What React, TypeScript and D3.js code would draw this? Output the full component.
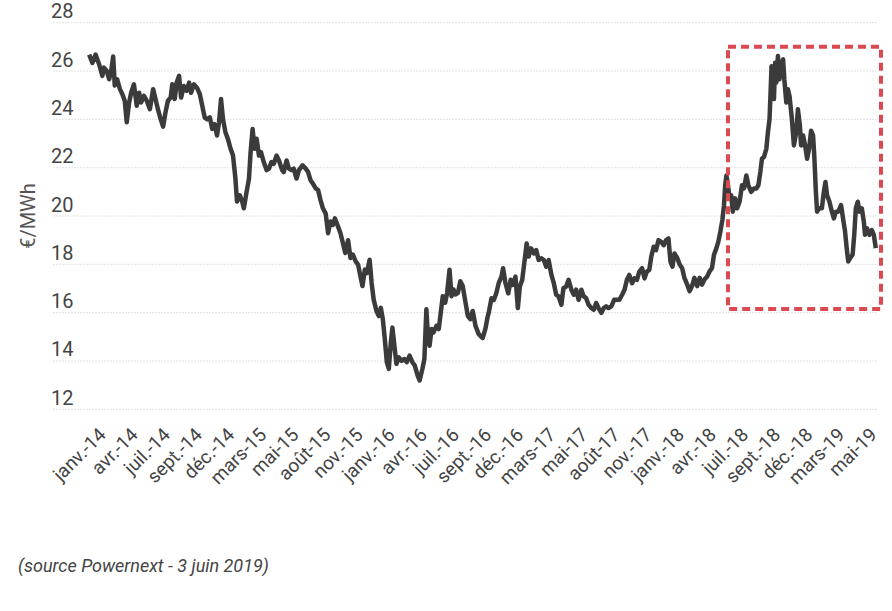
import React, { useEffect, useRef } from 'react';
import * as d3 from 'd3';

const startDate = new Date(2014, 0, 2);
const endDate = new Date(2019, 4, 31);

// [days since 2 Jan 2014, price €/MWh]
const prices: [number, number][] = [
  [3, 26.68], [11, 26.34], [19, 26.68], [28, 26.27], [36, 25.8], [40, 26.14], [47, 26.0], [53, 25.66],
  [58, 26.0], [63, 26.6], [67, 25.4], [73, 25.66], [80, 25.25], [86, 25.04], [92, 24.77], [97, 23.88],
  [103, 24.7], [108, 25.1], [115, 25.45], [122, 24.56], [128, 25.1], [133, 24.7], [140, 24.97], [147, 24.77],
  [155, 24.42], [163, 25.25], [169, 24.84], [175, 24.42], [182, 24.0], [188, 23.7], [194, 24.29], [200, 24.77],
  [207, 24.9], [211, 25.45], [217, 24.84], [222, 25.52], [228, 25.8], [233, 24.9], [240, 25.38], [247, 25.18],
  [253, 25.52], [258, 25.1], [265, 25.45], [273, 25.3], [280, 25.04], [286, 24.56], [292, 24.08], [298, 24.0],
  [305, 24.08], [311, 23.6], [317, 23.8], [323, 23.33], [328, 23.88], [333, 24.84], [338, 24.0], [344, 23.47],
  [350, 23.2], [357, 22.78], [363, 22.5], [369, 21.55], [373, 20.6], [380, 20.86], [386, 20.6], [390, 20.32],
  [397, 21.0], [403, 21.55], [407, 22.64], [412, 23.6], [417, 22.78], [422, 23.2], [428, 22.5], [433, 22.64],
  [440, 22.23], [447, 21.9], [453, 21.96], [459, 22.23], [465, 22.16], [472, 22.5], [478, 22.3], [486, 21.9],
  [490, 21.82], [497, 22.3], [503, 21.96], [509, 21.9], [515, 21.96], [522, 21.55], [528, 21.9], [537, 22.1],
  [545, 21.96], [551, 21.82], [557, 21.48], [563, 21.34], [570, 21.14], [576, 21.07], [582, 20.66], [588, 20.32],
  [595, 20.1], [601, 19.29], [607, 19.77], [613, 19.63], [618, 19.9], [626, 19.56], [632, 19.29], [638, 18.88],
  [644, 18.47], [651, 19.0], [657, 18.26], [663, 18.4], [670, 18.12], [676, 17.99], [682, 17.5], [687, 17.1],
  [693, 17.78], [698, 17.64], [705, 18.19], [710, 17.23], [715, 16.55], [722, 16.07], [728, 15.86], [733, 16.2],
  [738, 15.73], [743, 14.9], [748, 13.95], [753, 13.67], [758, 14.77], [762, 15.38], [767, 14.63], [772, 13.88],
  [778, 14.15], [785, 14.01], [792, 14.08], [798, 13.95], [805, 14.22], [812, 13.95], [818, 13.81], [825, 13.4],
  [830, 13.19], [837, 13.67], [842, 14.08], [847, 16.14], [851, 15.04], [855, 14.63], [860, 15.32], [865, 15.18],
  [872, 15.45], [878, 15.32], [883, 16.0], [888, 16.68], [894, 16.41], [899, 16.82], [905, 17.78], [910, 16.68],
  [915, 16.96], [920, 16.75], [926, 16.82], [932, 17.3], [938, 17.1], [945, 16.41], [951, 15.86], [957, 15.73],
  [963, 16.07], [970, 15.45], [978, 15.11], [988, 14.95], [995, 15.35], [1000, 15.8], [1003, 15.99], [1010, 16.6],
  [1016, 16.53], [1022, 16.8], [1028, 17.22], [1035, 17.49], [1039, 17.84], [1045, 17.22], [1052, 16.8], [1058, 17.36],
  [1063, 17.15], [1070, 17.49], [1076, 16.19], [1081, 17.08], [1087, 17.36], [1093, 18.18], [1098, 18.86], [1103, 18.32],
  [1109, 18.66], [1116, 18.45], [1122, 18.59], [1128, 18.18], [1135, 18.25], [1141, 18.18], [1147, 17.9], [1153, 18.18],
  [1160, 17.56], [1166, 17.22], [1172, 16.74], [1178, 16.67], [1185, 16.33], [1190, 17.01], [1197, 17.08], [1203, 17.36],
  [1210, 16.95], [1216, 16.74], [1222, 16.95], [1228, 16.53], [1235, 16.95], [1241, 16.67], [1247, 16.6], [1253, 16.33],
  [1260, 16.19], [1266, 16.12], [1272, 16.4], [1278, 16.19], [1285, 15.99], [1291, 16.19], [1297, 16.26], [1303, 16.19],
  [1310, 16.26], [1317, 16.53], [1323, 16.53], [1330, 16.53], [1337, 16.74], [1343, 16.95], [1349, 17.36], [1355, 17.56],
  [1362, 17.22], [1368, 17.42], [1374, 17.36], [1380, 17.7], [1387, 17.84], [1393, 17.42], [1399, 17.7], [1405, 17.77],
  [1410, 18.32], [1416, 18.73], [1422, 18.59], [1428, 19.0], [1435, 18.93], [1441, 18.79], [1447, 19.0], [1453, 19.07],
  [1458, 18.11], [1463, 17.9], [1468, 18.45], [1475, 18.26], [1481, 17.99], [1487, 17.85], [1493, 17.44], [1500, 17.16],
  [1506, 16.89], [1512, 17.1], [1518, 17.44], [1525, 17.1], [1531, 17.44], [1537, 17.16], [1543, 17.37], [1550, 17.5],
  [1556, 17.71], [1562, 17.85], [1567, 18.4], [1573, 18.67], [1578, 18.95], [1583, 19.36], [1588, 19.84], [1592, 20.45],
  [1595, 21.27], [1598, 21.68], [1602, 21.27], [1606, 20.73], [1610, 20.86], [1614, 20.18], [1620, 20.73], [1625, 20.32],
  [1631, 20.59], [1637, 21.27], [1642, 21.14], [1648, 21.68], [1653, 21.27], [1660, 21.0], [1667, 21.14], [1673, 21.14],
  [1678, 21.27], [1683, 21.82], [1687, 22.37], [1692, 22.44], [1698, 22.78], [1702, 23.47], [1706, 24.01], [1708, 24.84],
  [1711, 26.2], [1714, 25.66], [1717, 24.84], [1720, 26.34], [1723, 25.52], [1727, 26.62], [1731, 25.66], [1735, 26.27],
  [1740, 26.48], [1743, 25.66], [1748, 24.7], [1752, 25.25], [1756, 24.97], [1762, 24.01], [1767, 22.92], [1773, 23.47],
  [1777, 24.42], [1782, 23.74], [1785, 22.92], [1790, 23.33], [1795, 22.92], [1800, 22.37], [1805, 22.78], [1810, 23.53],
  [1815, 23.33], [1818, 22.5], [1822, 21.0], [1825, 20.18], [1830, 20.32], [1837, 20.32], [1842, 21.0], [1846, 21.41],
  [1850, 20.86], [1856, 20.59], [1862, 20.18], [1867, 19.9], [1872, 20.18], [1878, 20.18], [1885, 20.45], [1890, 19.9],
  [1895, 19.36], [1900, 18.53], [1903, 18.12], [1908, 18.26], [1914, 18.4], [1918, 19.22], [1922, 20.32], [1927, 20.59],
  [1931, 20.18], [1937, 20.32], [1942, 19.77], [1945, 19.22], [1950, 19.49], [1956, 19.22], [1962, 19.42], [1967, 19.22],
  [1972, 18.67],
];

const monthLabels = [
  'janv.-14', 'avr.-14', 'juil.-14', 'sept.-14', 'déc.-14', 'mars-15', 'mai-15', 'août-15', 'nov.-15',
  'janv.-16', 'avr.-16', 'juil.-16', 'sept.-16', 'déc.-16', 'mars-17', 'mai-17', 'août-17', 'nov.-17',
  'janv.-18', 'avr.-18', 'juil.-18', 'sept.-18', 'déc.-18', 'mars-19', 'mai-19',
];

const yTicks = [12, 14, 16, 18, 20, 22, 24, 26, 28];

// dashed frame around the last year
const boxDays = [1602, 1985];
const boxPrices = [16.15, 27];

function App() {
  const svgRef = useRef<SVGSVGElement>(null);

  useEffect(() => {
    const svg = d3.select(svgRef.current);
    svg.selectAll('*').remove();

    const dateOf = (d: number) => d3.timeDay.offset(startDate, d);
    const x = d3.scaleTime().domain([startDate, endDate]).range([88, 877]);
    const y = d3.scaleLinear().domain([12, 28]).range([409.3, 22.7]);
    const xLab = d3.scalePoint<string>().domain(monthLabels).range([107, 878]);

    // grid
    svg.append('g')
      .selectAll('line')
      .data(yTicks)
      .join('line')
      .attr('x1', 53)
      .attr('x2', 877)
      .attr('y1', d => y(d))
      .attr('y2', d => y(d))
      .attr('stroke', '#e2e2e2')
      .attr('stroke-width', 1)
      .attr('stroke-dasharray', '2,1');

    // y labels
    svg.append('g')
      .selectAll('text')
      .data(yTicks)
      .join('text')
      .attr('x', 51)
      .attr('y', d => y(d) - 4.5)
      .attr('font-size', 20)
      .attr('fill', '#444')
      .text(d => d);

    // x labels
    svg.append('g')
      .selectAll('text')
      .data(monthLabels)
      .join('text')
      .attr('text-anchor', 'end')
      .attr('transform', d => `translate(${xLab(d)},436) rotate(-45)`)
      .attr('font-size', 19)
      .attr('fill', '#444')
      .text(d => d);

    // y title
    svg.append('text')
      .attr('transform', 'translate(35,216) rotate(-90)')
      .attr('text-anchor', 'middle')
      .attr('font-size', 20)
      .attr('fill', '#555')
      .text('€/MWh');

    // price line
    const line = d3.line<[number, number]>()
      .x(d => x(dateOf(d[0])))
      .y(d => y(d[1]));

    svg.append('path')
      .datum(prices)
      .attr('d', line)
      .attr('fill', 'none')
      .attr('stroke', '#3b3b3b')
      .attr('stroke-width', 4.5)
      .attr('stroke-linejoin', 'round');

    // highlight box
    const bx0 = x(dateOf(boxDays[0]));
    const bx1 = x(dateOf(boxDays[1]));
    svg.append('rect')
      .attr('x', bx0)
      .attr('y', y(boxPrices[1]))
      .attr('width', bx1 - bx0)
      .attr('height', y(boxPrices[0]) - y(boxPrices[1]))
      .attr('fill', 'none')
      .attr('stroke', '#db4a50')
      .attr('stroke-width', 4)
      .attr('stroke-dasharray', '8,5');

    // source
    svg.append('text')
      .attr('x', 18)
      .attr('y', 572)
      .attr('font-size', 18)
      .attr('font-style', 'italic')
      .attr('fill', '#444')
      .text('(source Powernext - 3 juin 2019)');
  }, []);

  return (
    <svg
      ref={svgRef}
      width={892}
      height={611}
      style={{ position: 'absolute', left: 0, top: 0, fontFamily: 'Roboto, sans-serif', background: '#fff' }}
    />
  );
}

export default App;
